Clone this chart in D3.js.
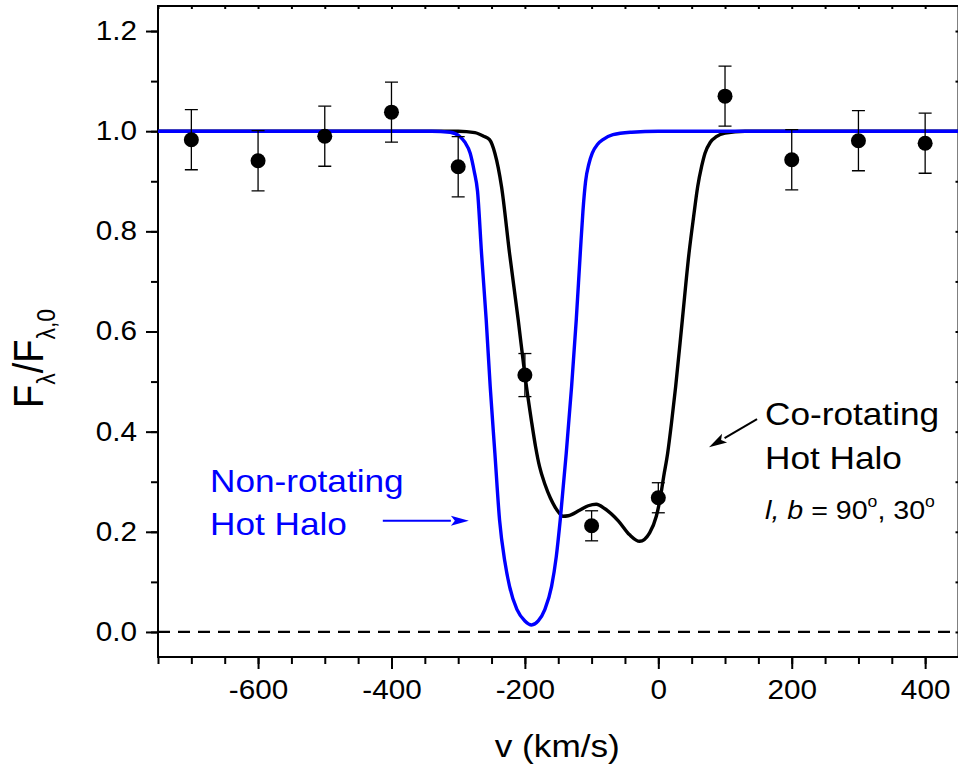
<!DOCTYPE html>
<html>
<head>
<meta charset="utf-8">
<script src="https://cdn.jsdelivr.net/npm/d3@7"></script>
<style>
  body { margin: 0; background: #fff; }
  text { font-family: "Liberation Sans", Arial, Helvetica, sans-serif; }
</style>
</head>
<body>
<div id="chart"></div>
<script>
// observed points (v in km/s, normalised flux, 1-sigma error)
const obsV = [-700, -600, -500, -400, -300, -200, -100, 0, 100, 200, 300, 400];
const obsF = [0.983, 0.941, 0.990, 1.038, 0.929, 0.513, 0.212, 0.268, 1.070, 0.943, 0.981, 0.976];
const obsErr = [0.06, 0.06, 0.06, 0.06, 0.06, 0.043, 0.03, 0.03, 0.06, 0.06, 0.06, 0.06];

// non-rotating hot halo model (blue)
const blueV = [-750, -340, -312, -298, -290, -282, -276, -271, -265, -258, -252, -245, -238, -230,
  -223, -212, -200, -190, -180, -170, -160, -153, -147, -138, -130, -123, -117, -113, -109,
  -104, -99, -91, -83, -68, -40, 0, 450];
const blueF = [1.0, 1.0, 0.998, 0.99, 0.978, 0.956, 0.92, 0.88, 0.756, 0.623, 0.49, 0.357, 0.224, 0.14,
  0.091, 0.045, 0.022, 0.014, 0.022, 0.045, 0.091, 0.15, 0.224, 0.357, 0.49, 0.623, 0.756, 0.84, 0.9,
  0.935, 0.956, 0.974, 0.983, 0.993, 0.998, 1.0, 1.0];

// co-rotating hot halo model (black)
const blackV = [-750, -300, -275, -262, -253, -245, -235, -223, -210, -200, -190, -184, -178, -170,
  -162, -155, -149, -143, -135, -118, -105, -93, -80, -60, -43, -28, -13, -3, 3, 8, 14, 20, 26, 36,
  46, 53, 59, 65, 70, 78, 87, 100, 130, 450];
const blackF = [1.0, 1.0, 0.997, 0.99, 0.983, 0.956, 0.889, 0.756, 0.623, 0.513, 0.42, 0.37, 0.33, 0.295,
  0.268, 0.25, 0.238, 0.231, 0.232, 0.243, 0.252, 0.255, 0.246, 0.222, 0.194, 0.181, 0.198, 0.231, 0.268, 0.31, 0.357, 0.42, 0.49, 0.623,
  0.756, 0.83, 0.889, 0.93, 0.956, 0.978, 0.989, 0.996, 1.0, 1.0];

// axis ticks
const xMajor = [-600, -400, -200, 0, 200, 400];
const xMinor = d3.range(-750, 451, 50);
const yMajor = [0.0, 0.2, 0.4, 0.6, 0.8, 1.0, 1.2];
const yMinor = d3.range(0, 1.25, 0.1);

const W = 958, H = 770;
const stretch = 1.1; // text in the source is a bit wide

const x = d3.scaleLinear().domain([-750, 450]).range([158, 958.5]);
const y = d3.scaleLinear().domain([-0.05, 1.25]).range([657, 6]);

const svg = d3.select('#chart').append('svg')
  .attr('width', W)
  .attr('height', H);

svg.append('defs').append('clipPath').attr('id', 'plot')
  .append('rect')
  .attr('x', x.range()[0]).attr('y', y.range()[1])
  .attr('width', x.range()[1] - x.range()[0])
  .attr('height', y.range()[0] - y.range()[1]);

// axes
const xAxisG = svg.append('g').attr('transform', `translate(0,${y.range()[0]})`);
xAxisG.append('g').call(d3.axisBottom(x).tickValues(xMinor).tickSize(7).tickFormat(''));
xAxisG.append('g').call(d3.axisBottom(x).tickValues(xMajor).tickSize(12).tickPadding(11).tickFormat(d => String(d)));

const yAxisG = svg.append('g').attr('transform', `translate(${x.range()[0]},0)`);
yAxisG.append('g').call(d3.axisLeft(y).tickValues(yMinor).tickSize(7).tickFormat(''));
yAxisG.append('g').call(d3.axisLeft(y).tickValues(yMajor).tickSize(12).tickFormat(d => d.toFixed(1)));

const topAxisG = svg.append('g').attr('transform', `translate(0,${y.range()[1]})`);
topAxisG.call(d3.axisBottom(x).tickValues(xMinor).tickSize(3).tickFormat(''));
const rightAxisG = svg.append('g').attr('transform', `translate(${x.range()[1]},0)`);
rightAxisG.call(d3.axisLeft(y).tickValues(yMinor).tickSize(3).tickFormat(''));

svg.selectAll('.domain').remove();
svg.selectAll('.tick line').attr('stroke', '#000').attr('stroke-width', 2);

xAxisG.selectAll('.tick text')
  .attr('font-size', 27)
  .attr('fill', '#000')
  .attr('transform', `scale(${stretch},1)`);

yAxisG.selectAll('.tick text')
  .attr('font-size', 27)
  .attr('fill', '#000')
  .attr('x', -21 / stretch)
  .attr('dy', '0.31em')
  .attr('transform', `scale(${stretch},1)`);

// frame
svg.append('rect')
  .attr('x', x.range()[0]).attr('y', y.range()[1])
  .attr('width', x.range()[1] - x.range()[0])
  .attr('height', y.range()[0] - y.range()[1])
  .attr('fill', 'none')
  .attr('stroke', '#000')
  .attr('stroke-width', 2);

const plot = svg.append('g').attr('clip-path', 'url(#plot)');

// zero line
plot.append('line')
  .attr('x1', x(-750)).attr('x2', x(450))
  .attr('y1', y(0)).attr('y2', y(0))
  .attr('stroke', '#000')
  .attr('stroke-width', 2.3)
  .attr('stroke-dasharray', '12,8');

const line = d3.line()
  .x(d => x(d[0]))
  .y(d => y(d[1]))
  .curve(d3.curveMonotoneX);

plot.append('path')
  .datum(d3.zip(blackV, blackF))
  .attr('d', line)
  .attr('fill', 'none')
  .attr('stroke', '#000')
  .attr('stroke-width', 3.4);

plot.append('path')
  .datum(d3.zip(blueV, blueF))
  .attr('d', line)
  .attr('fill', 'none')
  .attr('stroke', '#0000ff')
  .attr('stroke-width', 3.4);

// error bars and points
const obs = obsV.map((v, i) => ({ v, f: obsF[i], e: obsErr[i] }));
const capW = 13;
const pts = plot.append('g').selectAll('g').data(obs).enter().append('g');
pts.append('line')
  .attr('x1', d => x(d.v)).attr('x2', d => x(d.v))
  .attr('y1', d => y(d.f + d.e)).attr('y2', d => y(d.f - d.e))
  .attr('stroke', '#000').attr('stroke-width', 1.3);
pts.append('line')
  .attr('x1', d => x(d.v) - capW / 2).attr('x2', d => x(d.v) + capW / 2)
  .attr('y1', d => y(d.f + d.e)).attr('y2', d => y(d.f + d.e))
  .attr('stroke', '#000').attr('stroke-width', 1.3);
pts.append('line')
  .attr('x1', d => x(d.v) - capW / 2).attr('x2', d => x(d.v) + capW / 2)
  .attr('y1', d => y(d.f - d.e)).attr('y2', d => y(d.f - d.e))
  .attr('stroke', '#000').attr('stroke-width', 1.3);
pts.append('circle')
  .attr('cx', d => x(d.v)).attr('cy', d => y(d.f))
  .attr('r', 7.5)
  .attr('fill', '#000');

// annotations
const arrows = [
  { from: [-413, 0.222], to: [-284, 0.222], color: '#0000ff' },
  { from: [148, 0.425], to: [76, 0.369], color: '#000' }
];
arrows.forEach(a => {
  const x1 = x(a.from[0]), y1 = y(a.from[1]);
  const x2 = x(a.to[0]), y2 = y(a.to[1]);
  const ang = Math.atan2(y2 - y1, x2 - x1);
  const len = 18, hw = 5;
  const bx = x2 - len * Math.cos(ang), by = y2 - len * Math.sin(ang);
  svg.append('line')
    .attr('x1', x1).attr('y1', y1).attr('x2', bx).attr('y2', by)
    .attr('stroke', a.color).attr('stroke-width', 2);
  svg.append('path')
    .attr('d', `M${x2},${y2}L${bx - hw * Math.sin(ang)},${by + hw * Math.cos(ang)}` +
      `L${bx + 4 * Math.cos(ang)},${by + 4 * Math.sin(ang)}` +
      `L${bx + hw * Math.sin(ang)},${by - hw * Math.cos(ang)}Z`)
    .attr('fill', a.color);
});

const labels = [
  { v: -672, f: 0.2795, text: 'Non-rotating', color: '#0000ff' },
  { v: -672, f: 0.194, text: 'Hot Halo', color: '#0000ff' },
  { v: 160, f: 0.4133, text: 'Co-rotating', color: '#000' },
  { v: 160, f: 0.3254, text: 'Hot Halo', color: '#000' }
];
labels.forEach(l => {
  svg.append('text')
    .attr('transform', `translate(${x(l.v)},${y(l.f)}) scale(${stretch},1)`)
    .attr('font-size', 32)
    .attr('fill', l.color)
    .text(l.text);
});

const lb = svg.append('text')
  .attr('transform', `translate(${x(160)},${y(0.2256)}) scale(${stretch},1)`)
  .attr('font-size', 26)
  .attr('fill', '#000');
lb.append('tspan').attr('font-style', 'italic').text('l, b');
lb.append('tspan').text(' = 90');
lb.append('tspan').attr('font-size', 16).attr('dy', -12).text('o');
lb.append('tspan').attr('dy', 12).text(', 30');
lb.append('tspan').attr('font-size', 16).attr('dy', -12).text('o');

// axis titles
svg.append('text')
  .attr('transform', `translate(${(x(-750) + x(450)) / 2 - 1},757) scale(${stretch},1)`)
  .attr('text-anchor', 'middle')
  .attr('font-size', 32)
  .attr('fill', '#000')
  .text('v (km/s)');

const yt = svg.append('text')
  .attr('transform', `translate(43,408) scale(${stretch},1) rotate(-90)`)
  .attr('font-size', 38)
  .attr('fill', '#000');
yt.append('tspan').text('F');
yt.append('tspan').attr('font-size', 23).attr('dy', 11).text('λ');
yt.append('tspan').attr('dy', -11).text('/F');
yt.append('tspan').attr('font-size', 23).attr('dy', 11).text('λ,0');
</script>
</body>
</html>
